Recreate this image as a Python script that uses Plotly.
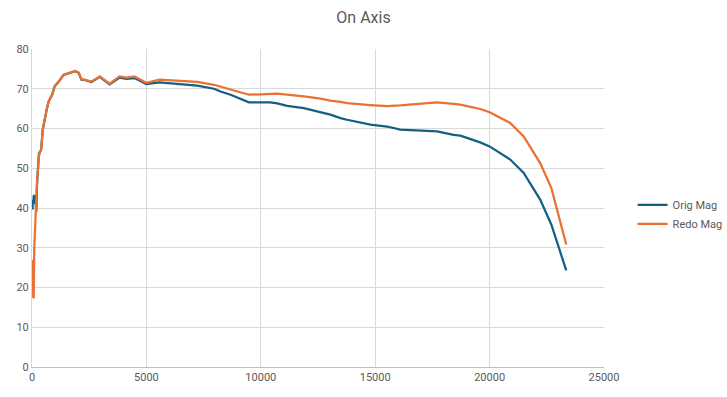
import plotly.graph_objects as go

freq = [20, 35, 55, 75, 100, 130, 160, 190, 220, 260, 300, 350, 400, 470, 530, 580, 650, 730,
        800, 880, 990, 1170, 1380, 1680, 1890, 2040, 2160, 2300, 2600, 2960, 3390, 3830, 4120,
        4480, 4990, 5570, 6060, 6360, 7220, 7950, 8240, 8680, 8970, 9480, 10000, 10420, 10720,
        11150, 11880, 12610, 13040, 13480, 13770, 14790, 15520, 16100, 16970, 17700, 18430,
        18720, 19590, 20000, 20900, 21490, 22210, 22700, 23350]

orig_mag = [39.6, 42.0, 41.0, 43.0, 43.2, 42.5, 40.5, 39.1, 46.0, 50.5, 53.6, 54.2, 54.6, 59.7,
            61.5, 63.5, 65.0, 66.8, 67.8, 68.5, 70.6, 71.8, 73.5, 74.0, 74.4, 74.0, 72.3, 72.2,
            71.7, 73.0, 71.1, 72.8, 72.5, 72.7, 71.2, 71.6, 71.4, 71.2, 70.8, 70.0, 69.3, 68.5,
            67.8, 66.6, 66.6, 66.6, 66.3, 65.7, 65.1, 64.1, 63.5, 62.6, 62.2, 61.0, 60.5, 59.7,
            59.5, 59.3, 58.4, 58.2, 56.5, 55.5, 52.2, 48.8, 42.1, 35.8, 24.3]

redo_mag = [27.0, 21.0, 17.4, 17.5, 30.0, 35.4, 40.0, 43.8, 46.5, 49.5, 53.0, 54.0, 54.6, 59.7,
            61.5, 63.5, 65.0, 66.8, 67.8, 68.5, 70.6, 71.8, 73.5, 74.0, 74.5, 74.0, 72.4, 72.3,
            71.8, 73.1, 71.3, 73.1, 72.8, 73.1, 71.5, 72.3, 72.1, 71.9, 71.7, 71.0, 70.5, 69.8,
            69.2, 68.5, 68.6, 68.7, 68.8, 68.5, 68.1, 67.5, 67.0, 66.7, 66.4, 65.9, 65.6, 65.8,
            66.2, 66.6, 66.2, 66.0, 64.9, 64.1, 61.4, 58.0, 51.3, 45.0, 30.8]

x_ticks = [0, 5000, 10000, 15000, 20000, 25000]
y_ticks = [0, 10, 20, 30, 40, 50, 60, 70, 80]

txt = "#595959"
grid = "#d9d9d9"
font_family = "Roboto, 'Open Sans', sans-serif"

fig = go.Figure()
fig.add_trace(go.Scatter(x=freq, y=orig_mag, mode="lines", name="Orig Mag",
                         line=dict(color="#156082", width=2.25)))
fig.add_trace(go.Scatter(x=freq, y=redo_mag, mode="lines", name="Redo Mag",
                         line=dict(color="#E97132", width=2.25)))

fig.update_layout(
    width=727, height=397,
    paper_bgcolor="white", plot_bgcolor="white",
    margin=dict(l=32, r=123, t=49, b=30, autoexpand=False),
    title=dict(text="On Axis", x=0.5, xref="container", xanchor="center",
               y=0.955, yref="container", yanchor="middle",
               font=dict(family=font_family, size=16, color=txt)),
    font=dict(family=font_family, size=11, color=txt),
    showlegend=True,
    legend=dict(x=1.05, y=0.48, xanchor="left", yanchor="middle",
                font=dict(family=font_family, size=11, color=txt),
                bgcolor="rgba(0,0,0,0)", itemwidth=30),
    xaxis=dict(range=[0, 25000], tickvals=x_ticks, ticktext=[str(v) for v in x_ticks],
               showgrid=True, gridcolor=grid, gridwidth=1, zeroline=False, automargin=False,
               showline=True, linecolor="#bfbfbf", linewidth=1, ticks="",
               tickfont=dict(size=11, color=txt)),
    yaxis=dict(range=[0, 80], tickvals=y_ticks, showgrid=True, gridcolor=grid, gridwidth=1,
               zeroline=False, automargin=False, showline=True, linecolor=grid, linewidth=1,
               ticks="", tickfont=dict(size=11, color=txt)),
)

fig.write_html("out.html", config={"displayModeBar": False},
               post_script="document.body.style.margin='0';document.body.style.overflow='hidden';")
